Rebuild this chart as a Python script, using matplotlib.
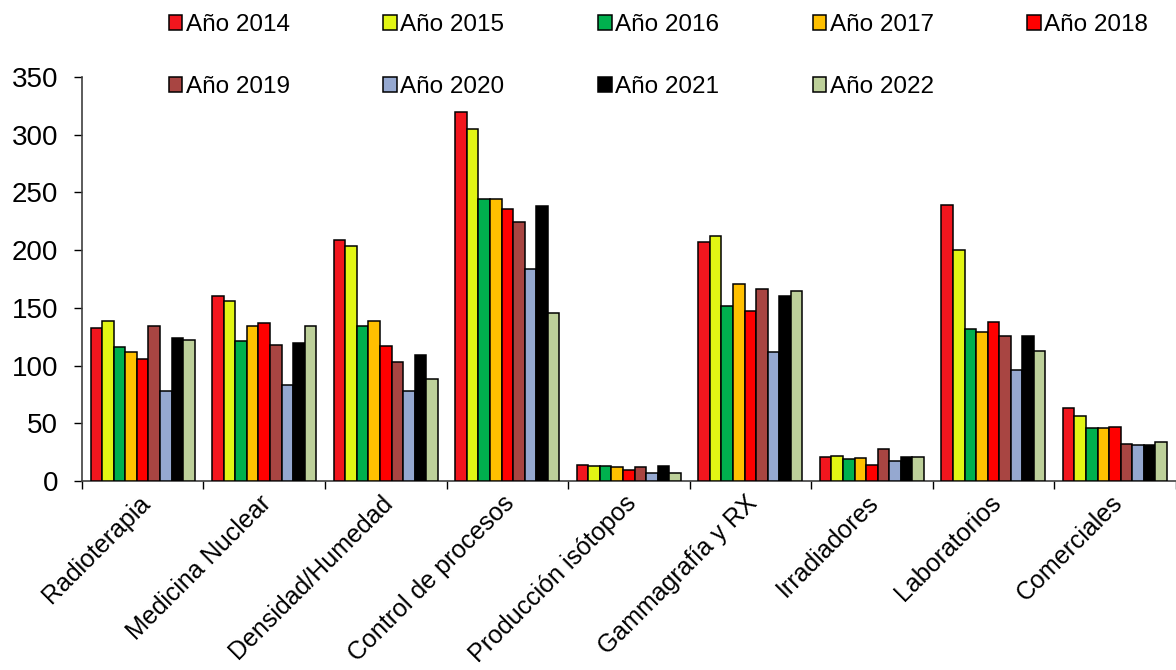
import numpy as np
import matplotlib
matplotlib.use("Agg")
import matplotlib.pyplot as plt
import matplotlib.transforms as mtransforms

plt.rcParams["font.family"] = ["Liberation Sans", "DejaVu Sans"]

# Categorías y valores por año
categorias = ["Radioterapia", "Medicina Nuclear", "Densidad/Humedad", "Control de procesos",
              "Producción isótopos", "Gammagrafía y RX", "Irradiadores", "Laboratorios", "Comerciales"]
anios = ["Año 2014", "Año 2015", "Año 2016", "Año 2017", "Año 2018",
         "Año 2019", "Año 2020", "Año 2021", "Año 2022"]

v2014 = [133, 160, 209, 320, 14, 207, 21, 239, 63]
v2015 = [139, 156, 204, 305, 13, 212, 22, 200, 56]
v2016 = [116, 121, 134, 244, 13, 152, 19, 132, 46]
v2017 = [112, 134, 139, 244, 12, 171, 20, 129, 46]
v2018 = [106, 137, 117, 236, 10, 147, 14, 138, 47]
v2019 = [134, 118, 103, 224, 12, 166, 28, 126, 32]
v2020 = [78, 83, 78, 184, 7, 112, 17, 96, 31]
v2021 = [124, 120, 109, 238, 13, 160, 21, 126, 31]
v2022 = [122, 134, 88, 146, 7, 165, 21, 113, 34]

series = [v2014, v2015, v2016, v2017, v2018, v2019, v2020, v2021, v2022]
colores = ["#F2161E", "#E2F514", "#00B04E", "#FFC000", "#FF0000",
           "#A84542", "#95A8D0", "#000000", "#BDD09A"]

fig = plt.figure(figsize=(11.76, 6.7), dpi=100)
ax = fig.add_axes([0.0697, 0.282, 0.93, 0.603])

x = np.arange(len(categorias))
ancho = 0.095
barras = []
for i, (vals, col) in enumerate(zip(series, colores)):
    b = ax.bar(x + (i - 4) * ancho, vals, ancho, color=col, edgecolor="black",
               linewidth=1.1, label=anios[i], zorder=3)
    barras.append(b)

ax.set_xlim(-0.5, len(categorias) - 0.5)
ax.set_ylim(0, 350)
ax.set_yticks(range(0, 351, 50))
ax.tick_params(axis="y", labelsize=20, length=6, width=1, direction="out", pad=11)

# ticks entre categorías, etiquetas centradas
ax.set_xticks(np.arange(-0.5, len(categorias), 1))
ax.set_xticklabels([])
ax.set_xticks(x, minor=True)
ax.set_xticklabels(categorias, minor=True, rotation=45, ha="right",
                   rotation_mode="anchor", fontsize=18)
ax.tick_params(axis="x", which="major", length=6, width=1, direction="out")
ax.tick_params(axis="x", which="minor", length=0, pad=7)
desplaza = mtransforms.ScaledTranslation(-5 / 100, 0, fig.dpi_scale_trans)
for lbl in ax.get_xticklabels(minor=True):
    lbl.set_transform(lbl.get_transform() + desplaza)

for s in ["top", "right"]:
    ax.spines[s].set_visible(False)
for s in ["left", "bottom"]:
    ax.spines[s].set_color("#404040")
    ax.spines[s].set_linewidth(1.2)

# leyenda en dos filas, orden por filas
orden = [0, 5, 1, 6, 2, 7, 3, 8, 4]
ax.legend([barras[k] for k in orden], [anios[k] for k in orden], ncol=5,
          loc="upper left", bbox_to_anchor=(0.125, 1.012), bbox_transform=fig.transFigure,
          frameon=False, fontsize=17.5, handlelength=0.55, handleheight=0.55,
          handletextpad=0.15, columnspacing=3.85, labelspacing=1.65)

fig.savefig("out.png", dpi=100)
